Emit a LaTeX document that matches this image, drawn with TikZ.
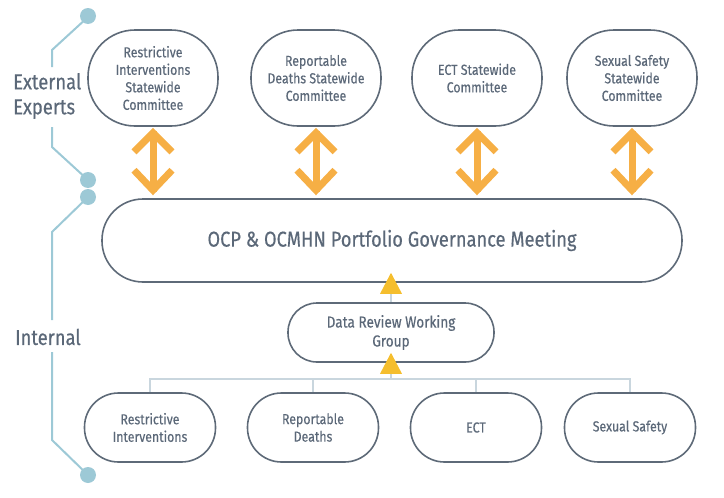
\documentclass[tikz,border=0pt]{standalone}
\usepackage{fontspec}
\setmainfont{Fira Sans}[FakeStretch=0.85,FakeBold=0.4]
\usetikzlibrary{calc}
\definecolor{txt}{HTML}{5B6878}
\definecolor{edgec}{HTML}{5E6A78}
\definecolor{orng}{HTML}{F6AF45}
\definecolor{yel}{HTML}{F5BE2E}
\definecolor{tlc}{HTML}{9DC9D6}
\definecolor{busc}{HTML}{C9D6DE}
\begin{document}
\begin{tikzpicture}[x=1pt,y=-1pt,
  basebox/.style={draw=edgec, line width=1.6pt, align=center, text=txt, inner sep=0pt},
  topbox/.style={basebox, rounded corners=47pt, minimum width=130pt, minimum height=96pt,
     font=\fontsize{14.5}{17.5}\selectfont},
  mainbox/.style={basebox, rounded corners=41pt, minimum width=580pt, minimum height=83pt,
     font=\fontsize{21.5}{26}\selectfont},
  midbox/.style={basebox, rounded corners=29pt, minimum width=206pt, minimum height=59pt,
     font=\fontsize{16}{19}\selectfont},
  botbox/.style={basebox, rounded corners=34pt, minimum width=131pt, minimum height=69pt,
     font=\fontsize{14.5}{17.5}\selectfont},
  side/.style={text=txt, align=left, anchor=west, inner sep=0pt, font=\fontsize{21.6}{25}\selectfont},
  tline/.style={draw=tlc, line width=2pt},
  dot/.style={fill=tlc},
  dbl/.style={draw=orng, line width=7pt},
  busline/.style={draw=busc, line width=1.2pt},
  tri/.style={fill=yel}
]
\useasboundingbox (0,0) rectangle (724,498);

% timeline
\draw[tline] (88,17) -- (52,50) -- (52,67);
\draw[tline] (52,127) -- (52,147) -- (88,180);
\draw[tline] (88,197) -- (52,232) -- (52,320);
\draw[tline] (52,352) -- (52,440) -- (88,475);
\foreach \yy in {16,180,197,475} \fill[dot] (88,\yy) circle (8);
\node[side] (ext) at (13,96) {External\\Experts};
\node[side] (int) at (15,337) {Internal};

% top committees
\node[topbox] (e1) at (153,78) {Restrictive\\Interventions\\Statewide\\Committee};
\node[topbox] (e2) at (316,78) {Reportable\\Deaths Statewide\\Committee};
\node[topbox] (e3) at (477,78) {ECT Statewide\\Committee};
\node[topbox] (e4) at (632,78) {Sexual Safety\\Statewide\\Committee};

\node[mainbox] (m) at (392,240.5) {OCP \& OCMHN Portfolio Governance Meeting};
\node[midbox] (d) at (391,332.5) {Data Review Working\\Group};

\node[botbox] (b1) at (150,427.5) {Restrictive\\Interventions};
\node[botbox] (b2) at (313,427.5) {Reportable\\Deaths};
\node[botbox] (b3) at (476,427.5) {ECT};
\node[botbox] (b4) at (630,427.5) {Sexual Safety};

% double arrows
\foreach \n in {e1,e2,e3,e4}{
  \draw[dbl] ($(\n.south)+(0,4)$) -- ($(\n.south |- m.north)+(0,-6)$);
  \draw[dbl, miter limit=10] ($(\n.south)+(-19,25)$) -- ($(\n.south)+(0,6)$) -- ($(\n.south)+(19,25)$);
  \draw[dbl, miter limit=10] ($(\n.south |- m.north)+(-19,-28)$) -- ($(\n.south |- m.north)+(0,-8)$) -- ($(\n.south |- m.north)+(19,-28)$);
}

% bus
\coordinate (bj) at (391,379);
\draw[busline] (b1.north) -- (b1.north |- bj) -- (b4.north |- bj) -- (b4.north);
\draw[busline] (b2.north) -- (b2.north |- bj);
\draw[busline] (b3.north) -- (b3.north |- bj);
\draw[busline] (bj) -- (d.south);
\draw[busline] (d.north) -- (d.north |- m.south);
\fill[tri] ($(d.south)+(0,-10)$) -- ($(d.south)+(-11,11)$) -- ($(d.south)+(11,11)$) -- cycle;
\fill[tri] ($(d.north |- m.south)+(0,-10)$) -- ($(d.north |- m.south)+(-11,11)$) -- ($(d.north |- m.south)+(11,11)$) -- cycle;
\end{tikzpicture}
\end{document}
